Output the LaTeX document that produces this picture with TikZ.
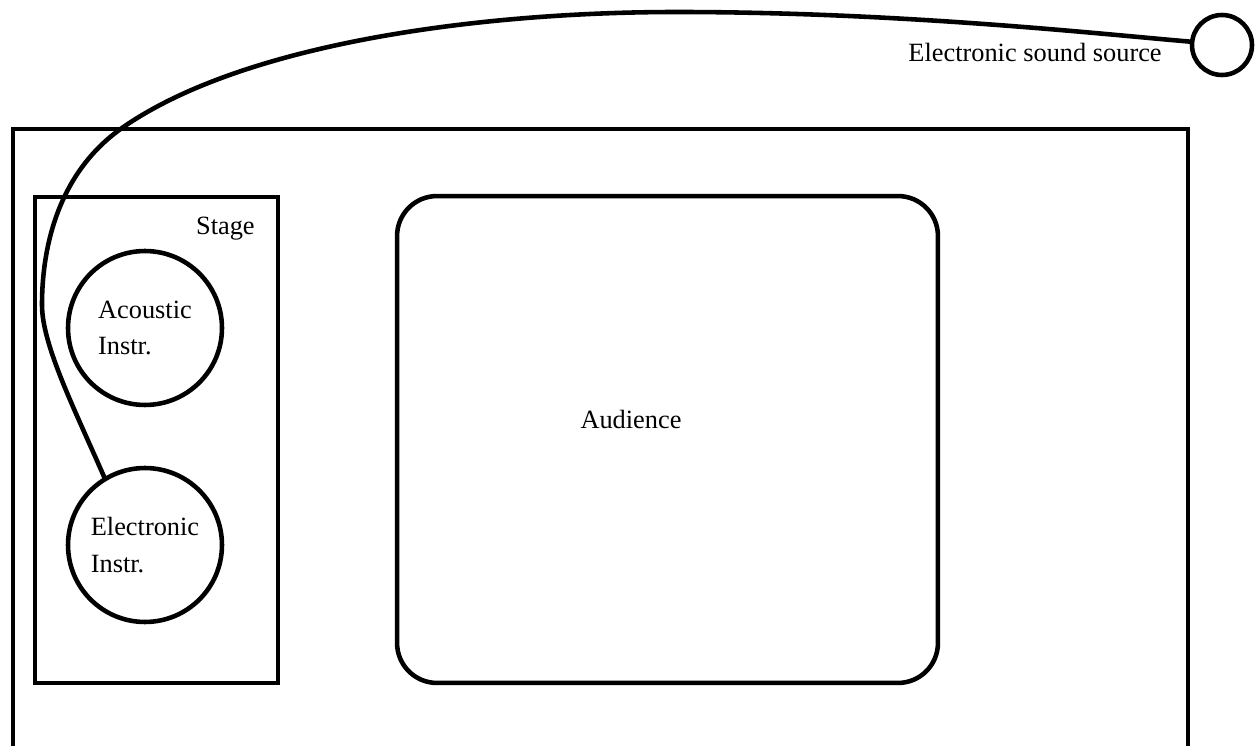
\documentclass[tikz,border=0pt]{standalone}
\usepackage{fontspec}
\setmainfont{Liberation Serif}
\begin{document}
\begin{tikzpicture}[x=0.02cm,y=-0.02cm,
  every node/.style={font=\fontsize{15}{21}\selectfont},
  heavy/.style={line width=2.6pt},
  instr/.style={circle, draw, heavy, minimum size=3.08cm, inner sep=0pt, align=left},
  area/.style={draw, heavy, inner sep=0pt},
  wire/.style={heavy, line cap=round}
]
\useasboundingbox (0,0) rectangle (1258,746);
% hall
\draw[heavy] (13,770) -- (13,129) -- (1188,129) -- (1188,770);
% stage
\node[area, minimum width=4.86cm, minimum height=9.72cm] (stage) at (156.5,440) {};
\node[anchor=base east, inner sep=0pt] (stagelabel) at (255,235) {Stage};
% instruments
\node[instr] (ai) at (145,328) {Acoustic\\Instr.};
\node[instr] (ei) at (145,545) {Electronic\\Instr.};
% audience
\node[area, rounded corners=0.8cm, minimum width=10.82cm, minimum height=9.74cm] (aud) at (667.5,439.5) {};
\node[inner sep=0pt] (audlabel) at (631,419) {Audience};
% electronic sound source
\node[circle, draw, heavy, minimum size=1.2cm, inner sep=0pt] (ss) at (1222,45) {};
\node[anchor=base east, inner sep=0pt] (sslabel) at (1162,62) {Electronic sound source};
% cable
\draw[wire] (ei.121) .. controls (75,410) and (42,345) .. (42,305)
  .. controls (42,240) and (62,170) .. (122,128)
  .. controls (242,44) and (477,12) .. (677,12)
  .. controls (900,12) and (1100,34) .. (ss.174);
\end{tikzpicture}
\end{document}
